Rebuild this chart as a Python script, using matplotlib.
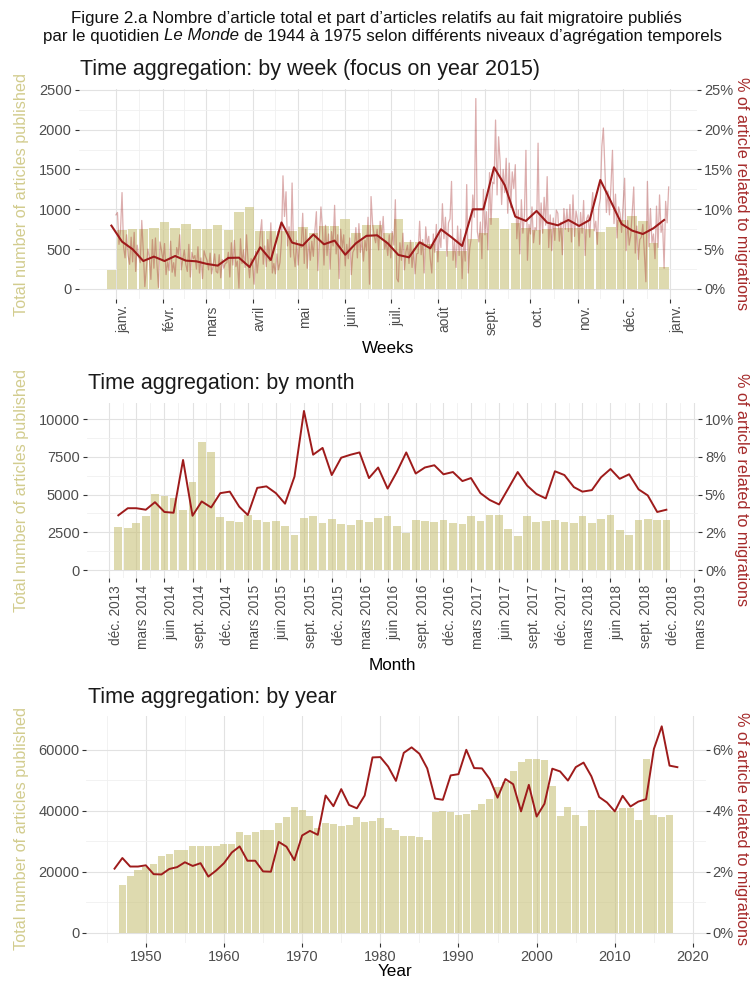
import numpy as np
import pandas as pd
import matplotlib
matplotlib.use('Agg')
import matplotlib.pyplot as plt
import matplotlib.dates as mdates

plt.rcParams['font.family'] = ['Liberation Sans', 'DejaVu Sans']

# ---------------- weekly panel (2015) ----------------
week_start = pd.date_range('2014-12-29', periods=53, freq='7D')
week_articles = [240, 741, 752, 752, 764, 840, 762, 817, 754, 752, 798, 739, 963,
                 1030, 733, 733, 725, 733, 779, 700, 787, 787, 875, 700, 808, 802,
                 708, 879, 586, 586, 560, 477, 477, 480, 624, 700, 896, 754, 825,
                 762, 741, 754, 762, 762, 762, 756, 720, 783, 870, 920, 855, 575, 273]
week_share = [7.95, 5.94, 4.98, 3.51, 4.06, 3.51, 4.14, 3.56, 3.47, 3.14, 2.93, 3.90,
              3.93, 2.75, 5.23, 3.64, 8.35, 5.82, 5.45, 6.84, 5.61, 6.07, 4.30, 5.73,
              6.67, 6.74, 5.73, 4.27, 3.97, 5.86, 5.10, 7.49, 6.49, 5.40, 10.0, 10.0,
              15.27, 13.05, 9.08, 8.54, 9.79, 8.33, 7.99, 8.66, 7.91, 8.66, 13.68,
              10.96, 8.16, 7.32, 6.90, 7.62, 8.66]

day_dates = pd.date_range('2015-01-01', '2015-12-31', freq='D')
day_share = [
    9.3, 9.6, 5.6, 7.3,
    12.1, 5.3, 3.9, 6.8, 4.2, 3.1, 6.5,
    3.4, 7.1, 2.2, 5.5, 4.0, 3.3, 8.6,
    4.8, 0.3, 2.5, 5.0, 3.9, 1.2, 6.2,
    2.6, 6.4, 3.1, 0.2, 5.9, 4.8, 3.5,
    5.7, 1.8, 3.4, 2.3, 6.0, 2.1, 3.3,
    1.6, 5.2, 4.3, 6.8, 2.4, 3.7, 4.9,
    3.1, 2.2, 5.6, 1.5, 4.6, 3.8, 4.2,
    2.5, 5.3, 2.0, 3.9, 1.3, 4.8, 4.1,
    3.6, 2.4, 4.5, 1.9, 3.0, 4.4, 2.2,
    2.0, 4.3, 1.4, 3.7, 2.6, 3.2, 3.3,
    4.6, 1.5, 5.8, 3.0, 6.1, 2.8, 3.5,
    0.1, 6.3, 3.2, 4.9, 2.7, 6.8, 3.5,
    1.4, 3.8, 2.9, 0.6, 4.7, 2.0, 3.9,
    6.9, 8.7, 3.1, 5.4, 2.8, 6.2, 3.5,
    8.3, 2.0, 3.2, 1.9, 4.4, 2.4, 3.3,
    6.0, 14.2, 9.1, 12.2, 5.4, 7.8, 4.0,
    13.3, 4.6, 2.8, 6.1, 3.0, 5.7, 5.2,
    9.5, 3.2, 7.5, 2.6, 5.9, 3.6, 6.0,
    4.1, 7.3, 9.7, 2.3, 6.6, 10.3, 7.5,
    3.0, 8.0, 4.2, 6.9, 2.5, 7.2, 5.4,
    10.5, 4.4, 6.8, 1.3, 7.5, 5.2, 6.8,
    2.9, 5.6, 3.8, 6.4, 1.8, 4.6, 5.0,
    7.7, 3.9, 8.2, 4.6, 6.1, 3.5, 6.1,
    4.8, 9.0, 0.6, 11.6, 8.2, 6.7, 5.8,
    7.5, 4.9, 8.5, 6.2, 9.1, 5.0, 6.0,
    4.2, 6.8, 3.9, 7.2, 5.5, 11.2, 1.3,
    0.9, 5.8, 3.6, 7.0, 2.4, 4.7, 5.5,
    3.2, 6.1, 2.7, 5.0, 1.9, 4.4, 4.5,
    8.5, 4.3, 6.2, 2.0, 7.8, 5.6, 6.6,
    3.8, 2.0, 6.9, 4.6, 8.1, 3.4, 6.9,
    5.2, 10.7, 6.3, 9.0, 4.1, 8.3, 8.8,
    13.5, 3.6, 6.0, 2.7, 7.9, 4.2, 7.5,
    1.3, 6.4, 3.5, 13.1, 2.0, 5.1, 6.4,
    11.8, 9.0, 23.9, 7.2, 5.9, 8.4, 3.8,
    12.5, 6.8, 9.7, 4.9, 14.6, 8.1, 13.4,
    13.2, 21.2, 11.8, 19.1, 16.0, 10.6, 15.0,
    12.1, 16.4, 9.5, 15.8, 10.2, 14.7, 12.6,
    15.6, 6.3, 9.9, 4.4, 11.2, 7.0, 9.2,
    17.4, 3.6, 8.1, 6.9, 10.3, 5.8, 7.7,
    7.4, 18.3, 5.6, 10.8, 7.0, 11.5, 8.0,
    14.1, 5.2, 9.3, 4.8, 8.9, 6.1, 9.9,
    9.5, 6.0, 8.4, 4.3, 10.1, 7.5, 10.0,
    7.2, 10.6, 5.9, 11.8, 6.6, 9.8, 8.7,
    5.4, 9.6, 7.0, 11.1, 4.2, 8.8, 9.3,
    6.5, 9.9, 12.1, 7.3, 8.5, 5.6, 10.2,
    11.4, 17.9, 20.2, 15.1, 9.6, 12.3, 9.3,
    13.0, 17.4, 8.2, 11.9, 6.4, 10.3, 9.5,
    7.1, 10.5, 13.9, 4.8, 8.6, 5.5, 6.7,
    9.6, 12.8, 4.5, 7.9, 3.7, 6.2, 6.5,
    8.1, 4.6, 0.9, 13.5, 5.3, 10.1, 5.8,
    6.9, 3.8, 10.4, 5.2, 11.8, 7.1, 8.2,
    2.6, 11.0, 8.3, 12.8,
]
week_tick_dates = pd.date_range('2015-01-01', '2016-01-01', freq='MS')
week_tick_labels = ['janv.', 'févr.', 'mars', 'avril', 'mai', 'juin', 'juil.',
                    'août', 'sept.', 'oct.', 'nov.', 'déc.', 'janv.']

# ---------------- monthly panel ----------------
month_start = pd.date_range('2014-01-01', periods=60, freq='MS')
month_articles = [2850, 2800, 3140, 3560, 5020, 4900, 4780, 3980, 5860, 8520, 7830, 3540,
                  3250, 3160, 3630, 3300, 3160, 3250, 2900, 2300, 3450, 3560, 3140, 3360,
                  3080, 3010, 3320, 3210, 3450, 3560, 2940, 2480, 3340, 3270, 3200, 3340,
                  3120, 3030, 3560, 3250, 3650, 3630, 2740, 2260, 3560, 3190, 3250, 3300,
                  3200, 3140, 3560, 3120, 3380, 3630, 2680, 2320, 3340, 3380, 3320, 3300]
month_share = [3.63, 4.10, 4.10, 4.00, 4.50, 3.85, 3.80, 7.30, 3.60, 4.55, 4.15, 5.10,
               5.20, 4.20, 3.65, 5.45, 5.55, 5.10, 4.40, 6.20, 10.55, 7.65, 8.10, 6.30,
               7.45, 7.65, 7.80, 6.10, 6.80, 5.40, 6.50, 7.80, 6.40, 6.80, 6.95, 6.35,
               6.50, 5.90, 6.10, 5.10, 4.65, 4.35, 5.40, 6.50, 5.60, 5.05, 4.75, 6.55,
               6.30, 5.50, 5.20, 5.30, 6.15, 6.70, 6.05, 6.35, 5.35, 4.95, 3.85, 4.00]
month_tick_dates = pd.date_range('2013-12-01', '2019-03-01', freq='3MS')
quarter_names = {12: 'déc.', 3: 'mars', 6: 'juin', 9: 'sept.'}
month_tick_labels = [f'{quarter_names[d.month]} {d.year}' for d in month_tick_dates]

# ---------------- yearly panel ----------------
bar_years = np.arange(1947, 2018)
year_articles = [15.5, 18.7, 20.7, 21.7, 22.6, 25.0, 25.9, 27.2, 27.2, 28.6, 28.6,
                 28.6, 28.3, 29.0, 29.0, 33.0, 32.0, 33.1, 33.8, 33.6, 36.1, 38.1,
                 41.2, 40.4, 38.4, 34.5, 36.1, 35.7, 35.1, 35.4, 38.0, 36.4, 36.8,
                 37.6, 34.3, 33.7, 31.7, 31.6, 31.3, 30.5, 39.6, 40.0, 39.7,
                 38.6, 39.0, 40.4, 42.1, 43.9, 47.8, 49.4, 53.0, 56.1, 56.9,
                 56.9, 56.5, 48.2, 38.4, 41.2, 38.5, 35.1, 40.3, 40.3, 40.3,
                 39.8, 41.0, 41.0, 37.0, 56.9, 38.6, 38.1, 38.6]  # thousands
line_years = np.arange(1946, 2019)
year_share = [2.10, 2.45, 2.17, 2.17, 2.21, 1.92, 1.91, 2.09, 2.15, 2.31, 2.19, 2.28,
              1.84, 2.04, 2.28, 2.63, 2.83, 2.36, 2.36, 2.01, 2.00, 2.98, 2.82, 2.38,
              3.19, 3.34, 3.21, 4.50, 4.15, 4.71, 4.19, 4.08, 4.50, 5.75,
              5.76, 5.45, 4.98, 5.90, 6.08, 5.87, 5.39, 4.40, 4.36, 5.16,
              5.20, 6.00, 5.40, 5.39, 5.04, 4.43, 5.04, 4.87, 3.98, 4.85,
              3.81, 4.23, 5.38, 5.29, 4.99, 5.43, 5.58, 5.13, 4.45, 4.27,
              3.98, 4.49, 4.14, 4.30, 4.38, 6.03, 6.77, 5.48, 5.43]
year_ticks = np.arange(1950, 2021, 10)

# ---------------- style ----------------
W, H = 753, 982
BAR = '#c9c27a'
KHAKI = '#d2cc8e'
RED = '#a52a2a'
TXT = '#4d4d4d'
GRID = '#e2e2e2'
GRID_MINOR = '#f0f0f0'

fig = plt.figure(figsize=(W / 100, H / 100), dpi=100)
fig.patch.set_facecolor('white')


def expand(lo, hi, f=0.05):
    pad = (hi - lo) * f
    return lo - pad, hi + pad


def make_panel(left, top, right, bottom, xlim, ylim, yticks, ylabels, rticks, rlabels):
    ax = fig.add_axes([left / W, 1 - bottom / H, (right - left) / W, (bottom - top) / H])
    ax.set_xlim(*xlim)
    ax.set_ylim(*ylim)
    ax.set_axisbelow(True)
    for s in ax.spines.values():
        s.set_visible(False)
    ax.set_yticks(yticks)
    ax.set_yticklabels(ylabels)
    ax.set_yticks([(a + b) / 2 for a, b in zip(yticks[:-1], yticks[1:])], minor=True)
    ax.grid(True, which='major', color=GRID, lw=0.8)
    ax.grid(True, which='minor', color=GRID_MINOR, lw=0.6)
    ax.tick_params(which='major', length=3, width=0.8, color='#333333',
                   labelcolor=TXT, labelsize=10.5, pad=2)
    ax.tick_params(which='minor', length=0)
    ax2 = ax.twinx()
    ax2.set_ylim(*ylim)
    ax2.set_yticks(rticks)
    ax2.set_yticklabels(rlabels)
    for s in ax2.spines.values():
        s.set_visible(False)
    ax2.tick_params(length=3, width=0.8, color='#333333', labelcolor=TXT,
                    labelsize=10.5, pad=2)
    return ax


def set_xgrid(ax, ticks, labels):
    ax.set_xticks(ticks)
    ax.set_xticks([(a + b) / 2 for a, b in zip(ticks[:-1], ticks[1:])], minor=True)
    ax.set_xticklabels(labels, rotation=90, ha='left', va='top', fontsize=9.8)


# --- panel 1: weeks ---
wx = mdates.date2num(week_start)
dx = mdates.date2num(day_dates)
w_lo, w_hi = wx.min() - 3.15, wx.max() + 3.15
p1_y = expand(0, max(max(week_articles), max(day_share) * 100))
ax1 = make_panel(78.5, 89, 697, 298.5, expand(w_lo, w_hi), p1_y,
                 [0, 500, 1000, 1500, 2000, 2500], ['0', '500', '1000', '1500', '2000', '2500'],
                 [0, 500, 1000, 1500, 2000, 2500], ['0%', '5%', '10%', '15%', '20%', '25%'])
set_xgrid(ax1, mdates.date2num(week_tick_dates), week_tick_labels)
ax1.bar(wx, week_articles, width=6.3, color=BAR, alpha=0.6, lw=0)
ax1.plot(dx, np.array(day_share) * 100, color=RED, alpha=0.38, lw=0.9)
ax1.plot(wx, np.array(week_share) * 100, color='#9e1b1b', lw=1.5)

# --- panel 2: months ---
mx = mdates.date2num(month_start)
m_lo, m_hi = mx.min() - 12.6, mx.max() + 12.6
p2_y = expand(0, max(max(month_articles), max(month_share) * 1000))
ax2 = make_panel(86.7, 403, 698, 578, expand(m_lo, m_hi), p2_y,
                 [0, 2500, 5000, 7500, 10000], ['0', '2500', '5000', '7500', '10000'],
                 [0, 2500, 5000, 7500, 10000], ['0%', '2%', '5%', '8%', '10%'])
set_xgrid(ax2, mdates.date2num(month_tick_dates), month_tick_labels)
ax2.bar(mx, month_articles, width=25.2, color=BAR, alpha=0.6, lw=0)
ax2.plot(mx, np.array(month_share) * 1000, color='#9e1b1b', lw=1.4)

# --- panel 3: years ---
p3_x = expand(min(line_years.min(), bar_years.min() - 0.45),
              max(line_years.max(), bar_years.max() + 0.45))
p3_y = expand(0, max(max(year_articles) * 1000, max(year_share) * 10000))
ax3 = make_panel(86.4, 716, 705.5, 943, p3_x, p3_y,
                 [0, 20000, 40000, 60000], ['0', '20000', '40000', '60000'],
                 [0, 20000, 40000, 60000], ['0%', '2%', '4%', '6%'])
ax3.set_xticks(year_ticks)
ax3.set_xticks(np.arange(1945, 2021, 10), minor=True)
ax3.bar(bar_years, np.array(year_articles) * 1000, width=0.9, color=BAR, alpha=0.6, lw=0)
ax3.plot(line_years, np.array(year_share) * 10000, color='#9e1b1b', lw=1.4)

# --- titles and axis names ---
panel_titles = ['Time aggregation: by week (focus on year 2015)',
                'Time aggregation: by month', 'Time aggregation: by year']
for (x, y), t in zip([(80, 70), (88, 384), (88, 697)], panel_titles):
    fig.text(x / W, 1 - y / H, t, fontsize=15.5, color='#1a1a1a', va='center')

for (x, y), t in zip([(388, 348), (392, 665), (395, 972)], ['Weeks', 'Month', 'Year']):
    fig.text(x / W, 1 - y / H, t, fontsize=12.3, color='black', ha='center', va='center')

for yc in [194, 490, 829]:
    fig.text(22 / W, 1 - yc / H, 'Total number of articles published', rotation=90,
             fontsize=11.7, color=KHAKI, ha='center', va='center')
    fig.text(742 / W, 1 - yc / H, '% of article related to migrations', rotation=270,
             fontsize=11.7, color=RED, ha='center', va='center')

# --- figure heading, second line has an italic title ---
head_font = ['Liberation Sans', 'DejaVu Sans']
HEAD_SIZE = 12.2
fig.text(0.5, 1 - 18 / H,
         'Figure 2.a Nombre d’article total et part d’articles relatifs au fait migratoire publiés',
         ha='center', va='center', fontsize=HEAD_SIZE, family=head_font, color='#111111')
parts = [('par le quotidien', 'normal'), ('Le Monde', 'italic'),
         ('de 1944 à 1975 selon différents niveaux d’agrégation temporels', 'normal')]
renderer = fig.canvas.get_renderer()
pieces = [fig.text(0, 1 - 36 / H, s, style=st, fontsize=HEAD_SIZE, family=head_font,
                   va='center', color='#111111') for s, st in parts]
probe = fig.text(0, 0, 'x x', fontsize=HEAD_SIZE, family=head_font)
probe2 = fig.text(0, 0, 'xx', fontsize=HEAD_SIZE, family=head_font)
gap = probe.get_window_extent(renderer).width - probe2.get_window_extent(renderer).width
probe.remove()
probe2.remove()
widths = [p.get_window_extent(renderer).width for p in pieces]
x = (W - sum(widths) - gap * (len(pieces) - 1)) / 2 + 6
for p, w in zip(pieces, widths):
    p.set_x(x / W)
    x += w + gap

fig.savefig('out.png', dpi=100)
